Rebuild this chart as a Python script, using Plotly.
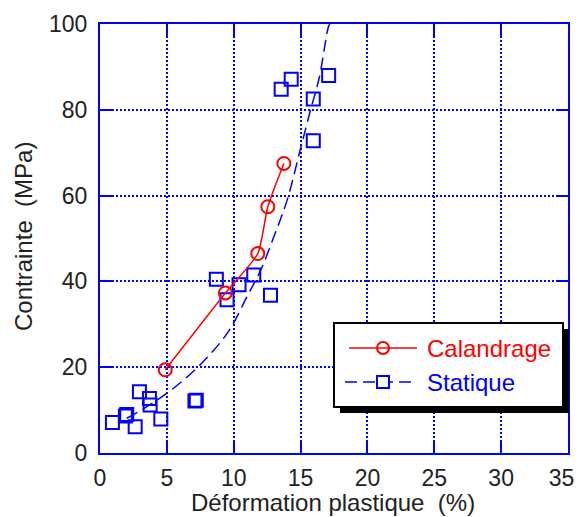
import plotly.graph_objects as go

# ---- data ----
cal_x = [4.88, 9.38, 11.8, 12.55, 13.75]
cal_y = [19.4, 37.3, 46.5, 57.4, 67.5]

stat_x = [0.93, 1.9, 2.0, 2.63, 2.95, 3.7, 3.75, 4.55, 7.1, 7.2,
          8.7, 9.5, 10.4, 11.5, 12.75, 13.55, 14.3, 15.95, 15.95, 17.1]
stat_y = [7.1, 8.6, 9.0, 6.1, 14.3, 12.7, 11.2, 7.9, 12.1, 12.3,
          40.5, 35.7, 39.2, 41.5, 36.8, 84.8, 87.1, 82.5, 72.8, 88.0]

fit_x = [2.0, 3.5, 5.5, 7.6, 9.6, 11.0, 12.0, 13.0, 14.0, 15.0, 15.75, 16.4, 17.1, 17.2]
fit_y = [8.1, 10.8, 15.1, 20.9, 28.3, 36.5, 42.5, 50.4, 59.0, 71.0, 80.0, 87.5, 99.5, 100.0]

x_ticks = [0, 5, 10, 15, 20, 25, 30, 35]
x_ticklabels = ["0", "5", "10", "15", "20", "25", "30", "35\u00a0\u00a0"]
y_ticks = [0, 20, 40, 60, 80, 100]
y_ticklabels = ["0", "20", "40", "60", "80", "100"]

names = ["Calandrage", "Statique"]
x_title = "Déformation plastique  (%)"
y_title = "Contrainte  (MPa)"

RED = "#ff0000"
BLUE = "#0000ff"
TXT = "#222222"
FONT = "Liberation Sans, Arial, sans-serif"

W, H = 579, 517
ML, MR, MT, MB = 100, 11, 24, 64
PW, PH = W - ML - MR, H - MT - MB


def px(xp):
    return (xp - ML) / PW


def py(yp):
    return (H - MB - yp) / PH


fig = go.Figure()

fig.add_trace(go.Scatter(
    x=fit_x, y=fit_y, mode="lines", line=dict(color=BLUE, width=1.5, dash="12px,6px", shape="spline"),
    showlegend=False, hoverinfo="skip"))

fig.add_trace(go.Scatter(
    x=stat_x, y=stat_y, mode="markers", name=names[1],
    marker=dict(symbol="square-open", size=13, color=BLUE, line=dict(width=2, color=BLUE)),
    showlegend=False))

fig.add_trace(go.Scatter(
    x=cal_x, y=cal_y, mode="lines+markers", name=names[0],
    line=dict(color=RED, width=1.5, shape="spline", smoothing=0.6),
    marker=dict(symbol="circle-open", size=13, color=RED, line=dict(width=2, color=RED)),
    showlegend=False))

shapes = []
# legend shadow + box
shapes.append(dict(type="rect", xref="paper", yref="paper",
                   x0=px(340), x1=px(569), y0=py(413), y1=py(329),
                   fillcolor="black", line=dict(width=0)))
shapes.append(dict(type="rect", xref="paper", yref="paper",
                   x0=px(334), x1=px(563), y0=py(407), y1=py(323),
                   fillcolor="white", line=dict(color="black", width=2)))
# legend symbols
shapes.append(dict(type="line", xref="paper", yref="paper",
                   x0=px(349), x1=px(417), y0=py(348), y1=py(348),
                   line=dict(color=RED, width=1.5)))
shapes.append(dict(type="circle", xref="paper", yref="paper",
                   x0=px(377), x1=px(389), y0=py(354), y1=py(342),
                   line=dict(color=RED, width=2)))
shapes.append(dict(type="line", xref="paper", yref="paper",
                   x0=px(345), x1=px(414), y0=py(382), y1=py(382),
                   line=dict(color=BLUE, width=1.5, dash="12px,6px")))
shapes.append(dict(type="rect", xref="paper", yref="paper",
                   x0=px(377), x1=px(389), y0=py(388), y1=py(376),
                   fillcolor="white", line=dict(color=BLUE, width=2)))

annotations = [
    dict(text=names[0], xref="paper", yref="paper", x=px(425), y=py(348),
         xanchor="left", yanchor="middle", showarrow=False,
         font=dict(family=FONT, size=24, color=RED)),
    dict(text=names[1], xref="paper", yref="paper", x=px(425), y=py(382),
         xanchor="left", yanchor="middle", showarrow=False,
         font=dict(family=FONT, size=24, color=BLUE)),
    dict(text=x_title, xref="paper", yref="paper", x=px(333), y=py(502),
         xanchor="center", yanchor="middle", showarrow=False,
         font=dict(family=FONT, size=24, color=TXT)),
    dict(text=y_title, xref="paper", yref="paper", x=px(24), y=py(237),
         xanchor="center", yanchor="middle", showarrow=False, textangle=-90,
         font=dict(family=FONT, size=24, color=TXT)),
]

axis_common = dict(
    showline=True, linecolor=BLUE, linewidth=2, mirror="ticks",
    ticks="inside", ticklen=12, tickwidth=2, tickcolor=BLUE,
    showgrid=True, gridcolor=BLUE, gridwidth=1.5, griddash="2px,2px",
    zeroline=False, automargin=False, ticklabeloverflow="allow",
    tickfont=dict(family=FONT, size=23, color=TXT),
)

fig.update_layout(
    width=W, height=H,
    margin=dict(l=ML, r=MR, t=MT, b=MB),
    paper_bgcolor="white", plot_bgcolor="white",
    xaxis=dict(range=[0, 35], tickvals=x_ticks, ticktext=x_ticklabels,
               ticklabelstandoff=3, **axis_common),
    yaxis=dict(range=[0, 100], tickvals=y_ticks, ticktext=y_ticklabels,
               ticklabelstandoff=6, **axis_common),
    shapes=shapes, annotations=annotations,
    showlegend=False,
)

fig.write_html("out.html", config={"displayModeBar": False},
               post_script="document.body.style.margin='0';document.body.style.padding='0';")
